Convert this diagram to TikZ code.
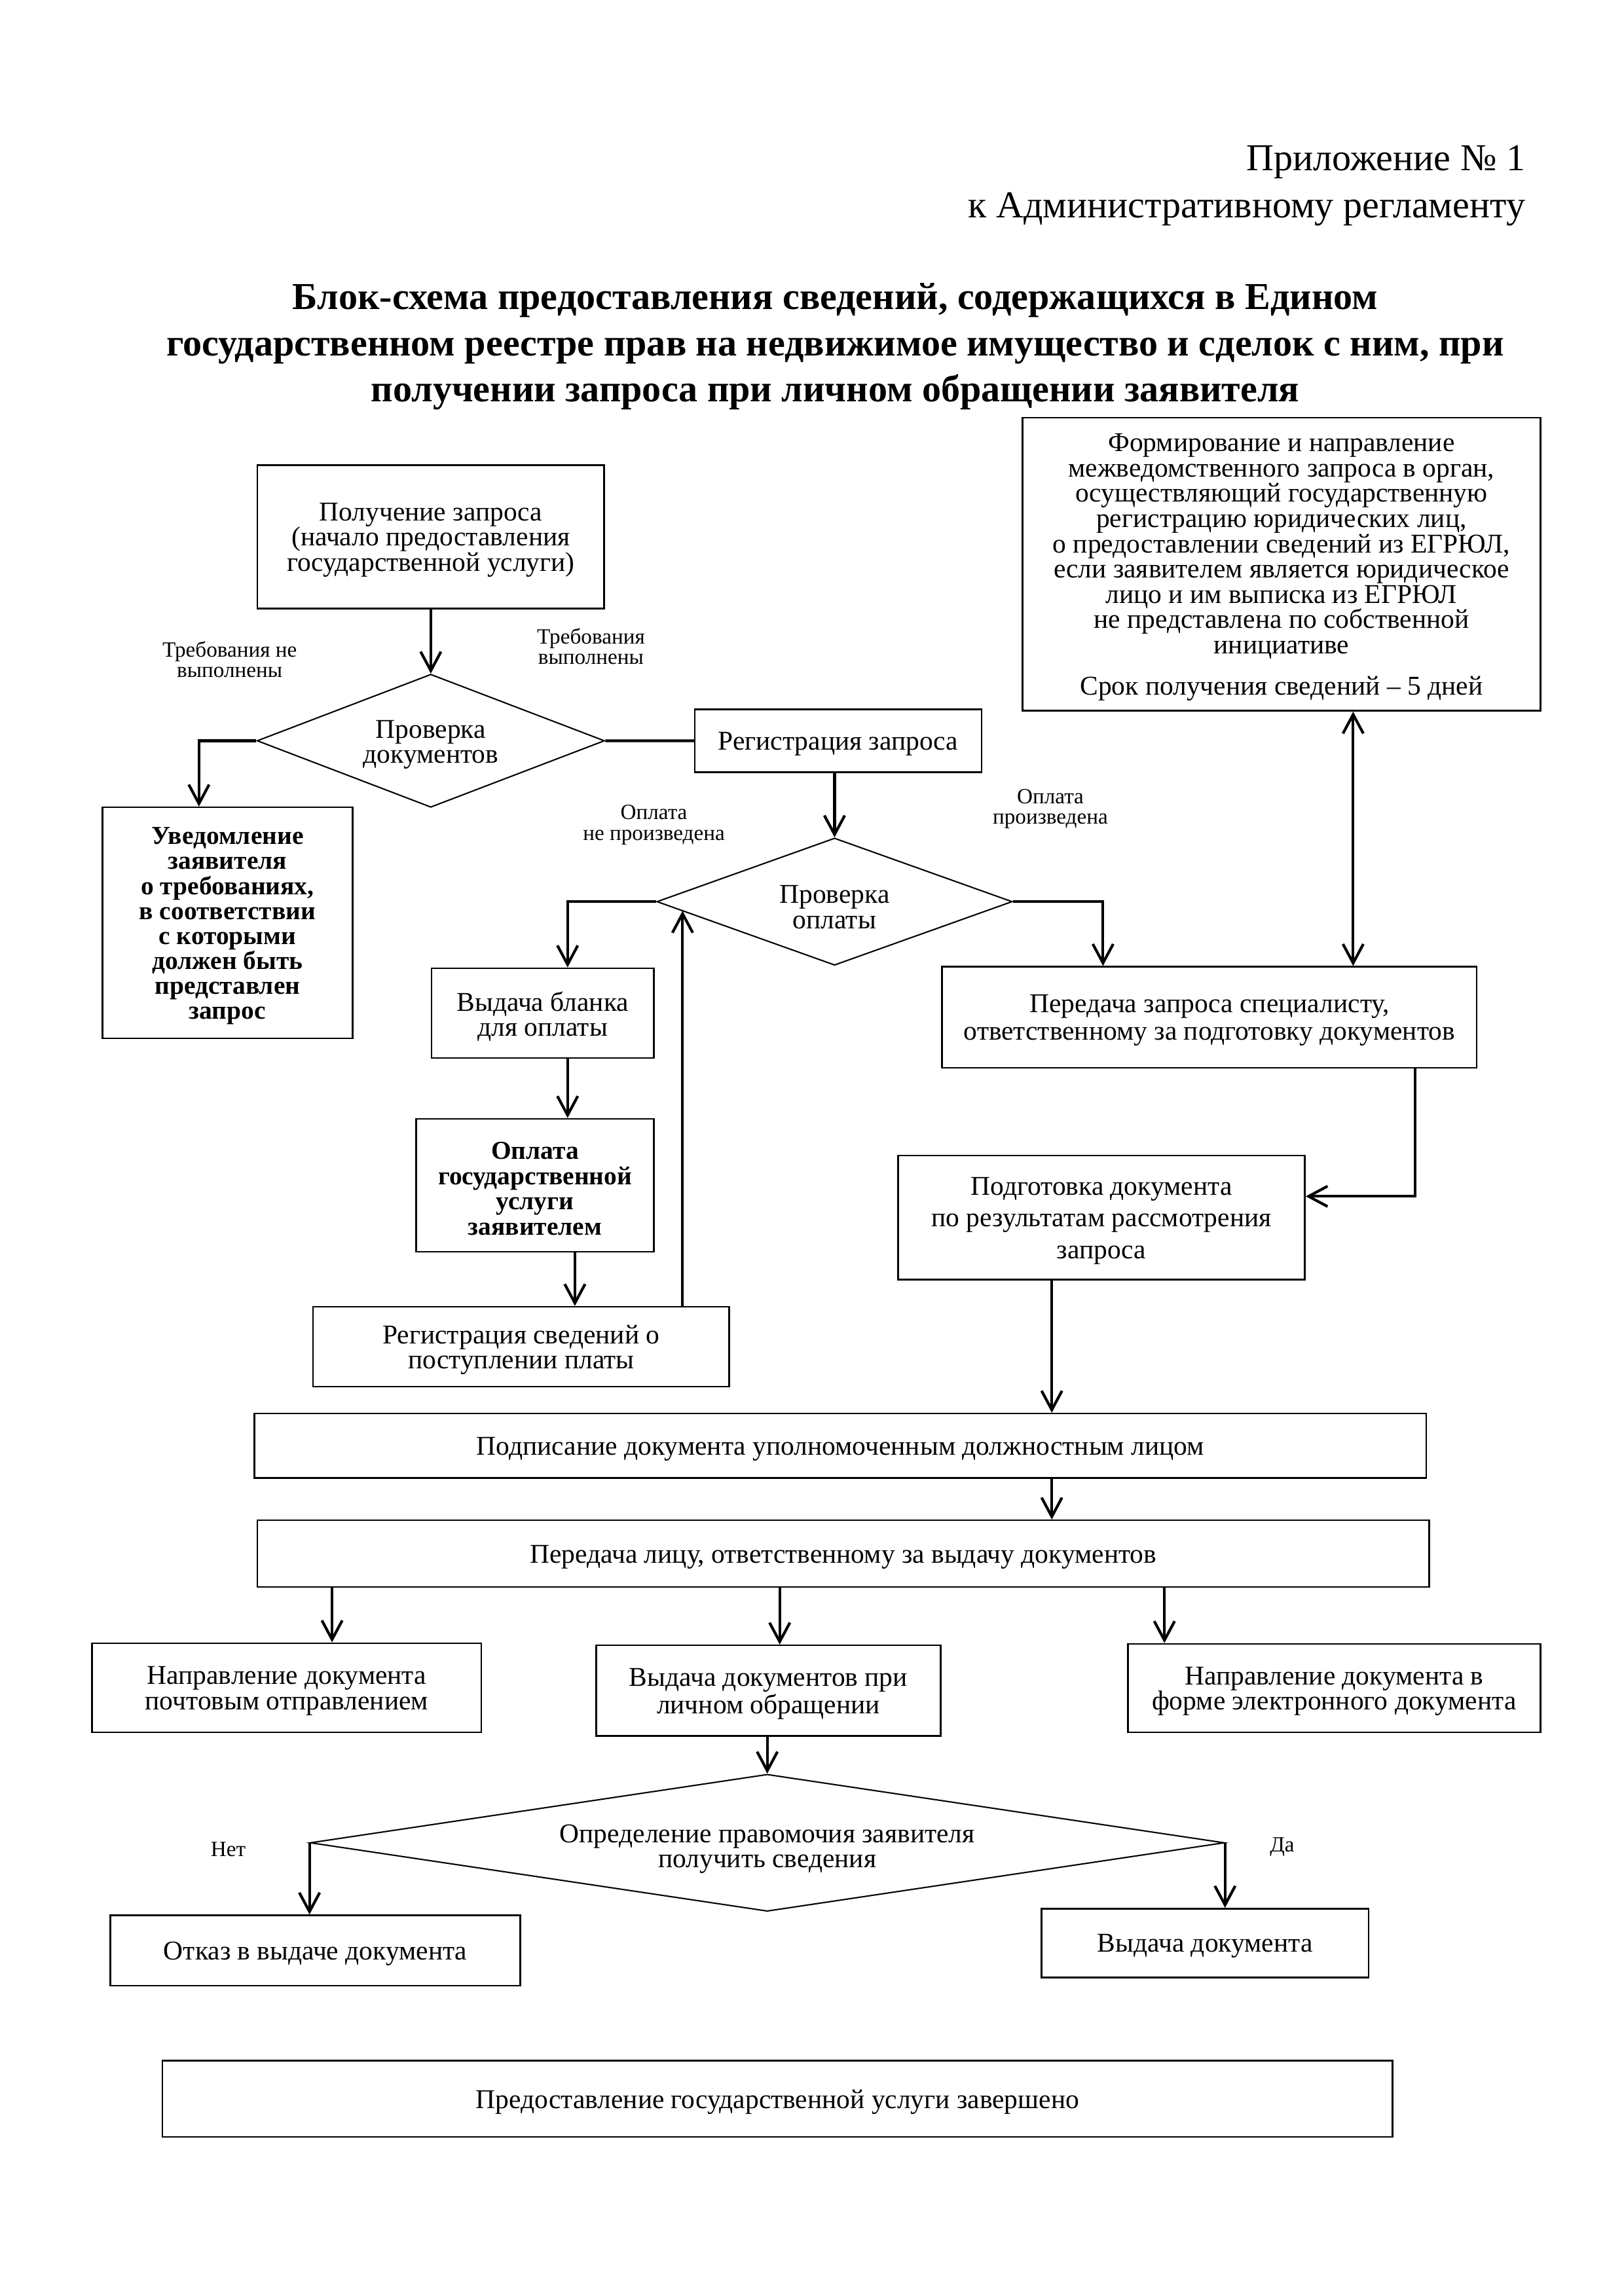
\documentclass[tikz,border=0pt]{standalone}
\usepackage{fontspec}
\setmainfont{Liberation Serif}
\usetikzlibrary{shapes.geometric,arrows.meta,fit}
\begin{document}
\begin{tikzpicture}[x=0.018919cm,y=-0.018919cm,
  box/.style={draw,line width=0.6pt,inner sep=0pt},
  diam/.style={diamond,draw,line width=0.5pt,inner sep=0pt},
  txt/.style={align=center,font=\fontsize{10}{9.3}\selectfont,inner sep=0pt,yshift=-1.2pt},
  lbl/.style={align=center,font=\fontsize{8}{7.6}\selectfont,inner sep=0pt},
  arr/.style={line width=1pt,-{Straight Barb[length=7pt,width=7.5pt]}},
  darr/.style={line width=1pt,{Straight Barb[length=7pt,width=7.5pt]}-{Straight Barb[length=7pt,width=7.5pt]}},
  ln/.style={line width=1pt},
  hdr/.style={anchor=east,inner sep=0pt,font=\fontsize{14}{17}\selectfont}]
\useasboundingbox (0,0) rectangle (1110,1569.9);

% header and title
\node[hdr] (h1) at (1043,111) {Приложение № 1};
\node[hdr] (h2) at (1043,143) {к Административному регламенту};
\node[align=center,inner sep=0pt,font=\bfseries\fontsize{14}{17}\selectfont] (title) at (571,237)
  {Блок-схема предоставления сведений, содержащихся в Едином\\
   государственном реестре прав на недвижимое имущество и сделок с ним, при\\
   получении запроса при личном обращении заявителя};

% boxes (frames)
\node[box,fit={(176,318)(413,416)}] (b1) {};
\node[box,fit={(699,285.5)(1053,486)}] (fm) {};
\node[box,fit={(475,485)(671,528)}] (rz) {};
\node[box,fit={(70,552)(241,710)}] (uv) {};
\node[box,fit={(295,662)(447,723.5)}] (vb) {};
\node[box,fit={(284.5,765)(447,856)}] (op) {};
\node[box,fit={(214,893.5)(498.5,948)}] (rs) {};
\node[box,fit={(644,661)(1009.5,730)}] (ps) {};
\node[box,fit={(614,790)(892,875)}] (pd) {};
\node[box,fit={(174,966.5)(975,1010.5)}] (pp) {};
\node[box,fit={(176,1039.5)(977,1085)}] (pl) {};
\node[box,fit={(63,1123.5)(329,1184.5)}] (np) {};
\node[box,fit={(407.5,1125)(643,1187)}] (vd) {};
\node[box,fit={(771,1124)(1053,1184.5)}] (ne) {};
\node[box,fit={(75.5,1309.6)(355.7,1357.8)}] (ot) {};
\node[box,fit={(712,1305)(935.5,1352)}] (vy) {};
\node[box,fit={(111,1409)(952,1461)}] (fin) {};

% diamonds
\node[diam,minimum width=4.495cm,minimum height=1.722cm] (d1) at (294.5,506.5) {};
\node[diam,minimum width=4.597cm,minimum height=1.646cm] (d2) at (570.5,616.5) {};
\node[diam,minimum width=11.824cm,minimum height=1.773cm] (d3) at (524.5,1260) {};

% texts
\node[txt] (b1t) at (b1) {Получение запроса\\(начало предоставления\\государственной услуги)};
\node[txt] (fmt) at (fm) {Формирование и направление\\межведомственного запроса в орган,\\осуществляющий государственную\\регистрацию юридических лиц,\\о предоставлении сведений из ЕГРЮЛ,\\если заявителем является юридическое\\лицо и им выписка из ЕГРЮЛ\\не представлена по собственной\\инициативе\\[6pt]Срок получения сведений – 5 дней};
\node[txt] (d1t) at (294.5,507) {Проверка\\документов};
\node[txt] (rzt) at (rz) {Регистрация запроса};
\node[txt,font=\fontsize{9.5}{9.2}\selectfont\bfseries] (uvt) at (uv) {Уведомление\\заявителя\\о требованиях,\\в соответствии\\с которыми\\должен быть\\представлен\\запрос};
\node[txt] (d2t) at (570.5,618) {Проверка\\оплаты};
\node[txt] (vbt) at (vb) {Выдача бланка\\для оплаты};
\node[txt,font=\fontsize{9.5}{9.3}\selectfont\bfseries] (opt) at (op) {Оплата\\государственной\\услуги\\заявителем};
\node[txt] (rst) at (rs) {Регистрация сведений о\\поступлении платы};
\node[txt,font=\fontsize{10}{10.2}\selectfont] (pst) at (ps) {Передача запроса специалисту,\\ответственному за подготовку документов};
\node[txt,font=\fontsize{10}{11.7}\selectfont] (pdt) at (pd) {Подготовка документа\\по результатам рассмотрения\\запроса};
\node[txt] (ppt) at (pp) {Подписание документа уполномоченным должностным лицом};
\node[txt] (plt) at (pl) {Передача лицу, ответственному за выдачу документов};
\node[txt] (npt) at (np) {Направление документа\\почтовым отправлением};
\node[txt] (vdt) at (vd) {Выдача документов при\\личном обращении};
\node[txt] (net) at (ne) {Направление документа в\\форме электронного документа};
\node[txt] (d3t) at (524.5,1262) {Определение правомочия заявителя\\получить сведения};
\node[txt] (ott) at (ot) {Отказ в выдаче документа};
\node[txt] (vyt) at (vy) {Выдача документа};
\node[txt] (fint) at (fin) {Предоставление государственной услуги завершено};

% labels
\node[lbl] (l1) at (157,451) {Требования не\\выполнены};
\node[lbl] (l2) at (404,442) {Требования\\выполнены};
\node[lbl] (l3) at (447,564) {Оплата\\не произведена};
\node[lbl] (l4) at (718,553) {Оплата\\произведена};
\node[lbl] (l5) at (156,1264.5) {Нет};
\node[lbl] (l6) at (876.5,1263) {Да};

% helper coordinates
\coordinate (cx136) at (136,0);
\coordinate (cx388) at (388,0);
\coordinate (cx393) at (393,0);
\coordinate (cx754) at (754,0);
\coordinate (cx925) at (925,0);
\coordinate (cx719) at (719,0);
\coordinate (cx227) at (227,0);
\coordinate (cx533) at (533,0);
\coordinate (cx796) at (796,0);
\coordinate (d2in) at (466.6,622.8);
\coordinate (c818) at (967.5,818);

% connectors
\draw[arr] (b1.south) -- (d1.north);
\draw[arr] (d1.west) -| (cx136 |- uv.north);
\draw[ln] (d1.east) -- (rz.west);
\draw[arr] (rz.south -| d2.north) -- (d2.north);
\draw[arr] (d2.west) -| (cx388 |- vb.north);
\draw[arr] (cx388 |- vb.south) -- (cx388 |- op.north);
\draw[arr] (cx393 |- op.south) -- (cx393 |- rs.north);
\draw[arr] (d2in |- rs.north) -- (d2in);
\draw[arr] (d2.east) -| (cx754 |- ps.north);
\draw[darr] (cx925 |- fm.south) -- (cx925 |- ps.north);
\draw[arr] (c818 |- ps.south) -- (c818) -- (c818 -| pd.east);
\draw[arr] (cx719 |- pd.south) -- (cx719 |- pp.north);
\draw[arr] (cx719 |- pp.south) -- (cx719 |- pl.north);
\draw[arr] (cx227 |- pl.south) -- (cx227 |- np.north);
\draw[arr] (cx533 |- pl.south) -- (cx533 |- vd.north);
\draw[arr] (cx796 |- pl.south) -- (cx796 |- ne.north);
\draw[arr] (d3.north |- vd.south) -- (d3.north);
\draw[arr] (d3.west) -- (d3.west |- ot.north);
\draw[arr] (d3.east) -- (d3.east |- vy.north);
\end{tikzpicture}
\end{document}
